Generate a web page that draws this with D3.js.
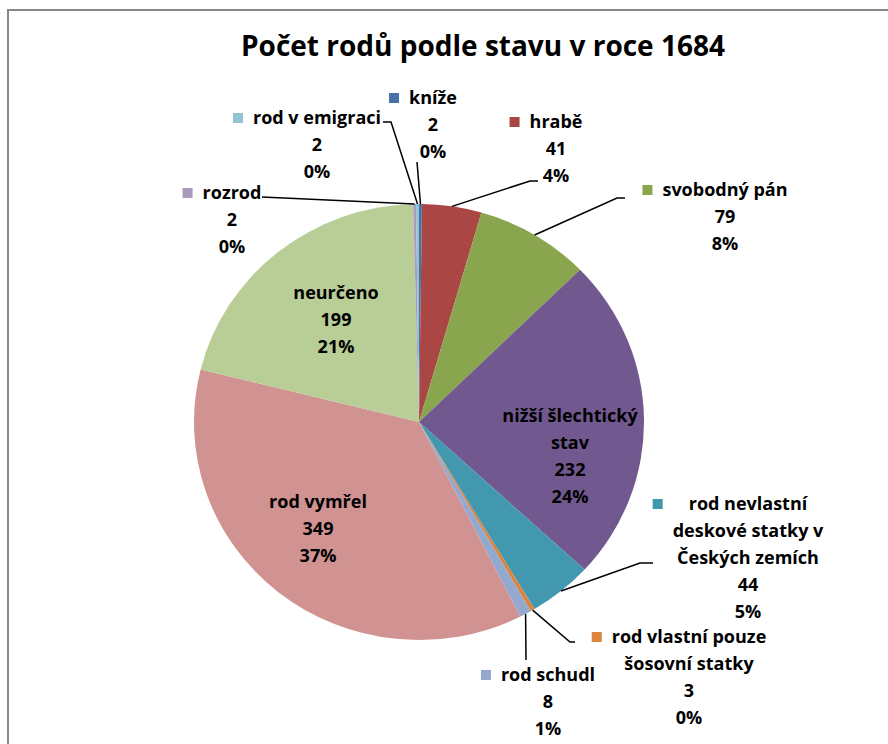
<!DOCTYPE html>
<html>
<head>
<meta charset="utf-8">
<script src="https://cdn.jsdelivr.net/npm/d3@7"></script>
<style>
  html, body { margin: 0; padding: 0; background: #fff; }
  svg { display: block; font-family: "Open Sans", Lato, sans-serif; }
</style>
</head>
<body>
<div id="chart"></div>
<script>
// Data
const categories = [
    "kníže", "hrabě", "svobodný pán", "nižší šlechtický stav",
    "rod nevlastní deskové statky v Českých zemích", "rod vlastní pouze šosovní statky",
    "rod schudl", "rod vymřel", "neurčeno", "rozrod", "rod v emigraci"
];
const values = [2, 41, 79, 232, 44, 3, 8, 349, 199, 2, 2];
// percentages as printed on the chart
const percents = [0, 4, 8, 24, 5, 0, 1, 37, 21, 0, 0];
const colors = [
    "#4572A7", "#AA4643", "#89A54E", "#71588F", "#4198AF", "#DB843D",
    "#93A9CF", "#D19392", "#B9CD96", "#A99BBD", "#92C3D4"
];
// how the category name is broken into lines in the label
const nameLines = [
    ["kníže"], ["hrabě"], ["svobodný pán"], ["nižší šlechtický", "stav"],
    ["rod nevlastní", "deskové statky v", "Českých zemích"], ["rod vlastní pouze", "šosovní statky"],
    ["rod schudl"], ["rod vymřel"], ["neurčeno"], ["rozrod"], ["rod v emigraci"]
];
const title = "Počet rodů podle stavu v roce 1684";

// Configuration
const CONFIG = {
    width: 888,
    height: 744,
    cx: 419,
    cy: 422,
    rx: 225,
    ry: 218,
    lineHeight: 27,
    fontSize: 18,
    titleSize: 28,
    textColor: "#000",
    border: "#878787"
};

// label placement: centre x, first line y, key square?, leader line points (label side)
const LABELS = [
    { x: 433, y: 98, key: true, leader: [[417, 162]] },
    { x: 556, y: 122, key: true, leader: [[538, 181], [530, 181]] },
    { x: 725, y: 190, key: true, leader: [[625, 198], [617, 198]] },
    { x: 570, y: 416, key: false, leader: null },
    { x: 748, y: 504, key: true, leader: [[653, 563], [640, 563]] },
    { x: 689, y: 637, key: true, leader: [[575, 642], [570, 642]] },
    { x: 548, y: 675, key: true, leader: [[526, 660]] },
    { x: 318, y: 502, key: false, leader: null },
    { x: 336, y: 293, key: false, leader: null },
    { x: 232, y: 193, key: true, leader: [[262, 197]] },
    { x: 317, y: 118, key: true, leader: [[383, 122], [391, 122]] }
];

const data = categories.map((c, i) => ({
    name: c, value: values[i], pct: percents[i], color: colors[i], lines: nameLines[i], label: LABELS[i]
}));

const svg = d3.select("#chart")
    .append("svg")
    .attr("width", CONFIG.width)
    .attr("height", CONFIG.height);

// chart area border (top and left edges visible)
svg.append("path")
    .attr("d", `M8,${CONFIG.height}V10H${CONFIG.width}`)
    .attr("fill", "none")
    .attr("stroke", CONFIG.border)
    .attr("stroke-width", 2);

svg.append("text")
    .attr("x", 483)
    .attr("y", 56)
    .attr("text-anchor", "middle")
    .attr("font-size", CONFIG.titleSize)
    .attr("font-weight", "bold")
    .attr("fill", CONFIG.textColor)
    .text(title);

// Pie
const pie = d3.pie().value(d => d.value).sort(null).startAngle(0).endAngle(2 * Math.PI);
const arcs = pie(data);
const arc = d3.arc().innerRadius(0).outerRadius(CONFIG.rx);

svg.append("g")
    .attr("transform", `translate(${CONFIG.cx},${CONFIG.cy}) scale(1,${CONFIG.ry / CONFIG.rx})`)
    .selectAll("path")
    .data(arcs)
    .join("path")
        .attr("d", arc)
        .attr("fill", d => d.data.color);

function edgePoint(d) {
    const a = (d.startAngle + d.endAngle) / 2;
    return [CONFIG.cx + CONFIG.rx * Math.sin(a), CONFIG.cy - CONFIG.ry * Math.cos(a)];
}

// Leader lines
svg.append("g")
    .attr("fill", "none")
    .attr("stroke", "#000")
    .attr("stroke-width", 1.5)
    .selectAll("path")
    .data(arcs.filter(d => d.data.label.leader))
    .join("path")
        .attr("d", d => d3.line()([...d.data.label.leader, edgePoint(d)]));

// Labels
const label = svg.append("g")
    .attr("font-size", CONFIG.fontSize)
    .attr("font-weight", "bold")
    .attr("fill", CONFIG.textColor)
    .attr("text-anchor", "middle")
    .selectAll("g")
    .data(arcs)
    .join("g");

label.each(function(d) {
    const g = d3.select(this);
    const L = d.data.label;
    const lines = [...d.data.lines, String(d.data.value), d.data.pct + "%"];
    const texts = g.selectAll("text")
        .data(lines)
        .join("text")
            .attr("x", L.x)
            .attr("y", (t, i) => L.y + i * CONFIG.lineHeight)
            .attr("dy", "0.35em")
            .text(t => t);
    if (L.key) {
        let w = 0;
        texts.each(function() { w = Math.max(w, this.getComputedTextLength()); });
        g.append("rect")
            .attr("x", L.x - w / 2 - 20)
            .attr("y", L.y - 5)
            .attr("width", 10)
            .attr("height", 10)
            .attr("fill", d.data.color);
    }
});
</script>
</body>
</html>
